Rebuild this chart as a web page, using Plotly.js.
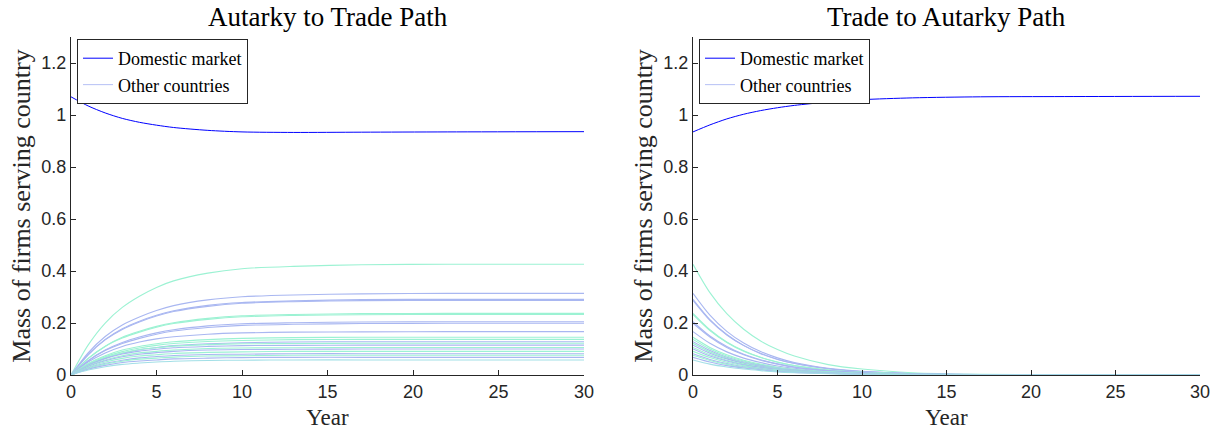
<!DOCTYPE html>
<html>
<head>
<meta charset="utf-8">
<script src="https://cdn.plot.ly/plotly-3.0.1.min.js"></script>
<style>html,body{margin:0;padding:0;background:#fff;}#chart{width:1229px;height:435px;}</style>
</head>
<body>
<div id="chart"></div>
<script>
// ---- data ----
var years = [0, 1, 2, 3, 4, 5, 6, 8, 10, 13, 17, 22, 30];

var domesticAutarkyToTrade = [1.070, 1.035, 1.008, 0.987, 0.972, 0.961, 0.952, 0.941, 0.935, 0.933, 0.934, 0.935, 0.936];
var domesticTradeToAutarky = [0.935, 0.962, 0.985, 1.003, 1.017, 1.028, 1.037, 1.050, 1.059, 1.066, 1.070, 1.071, 1.072];

var othersAutarkyToTrade = [
  [0, 0.115, 0.200, 0.260, 0.303, 0.337, 0.362, 0.392, 0.409, 0.418, 0.424, 0.426, 0.426],
  [0, 0.085, 0.148, 0.192, 0.223, 0.248, 0.267, 0.289, 0.301, 0.308, 0.312, 0.314, 0.314],
  [0, 0.079, 0.137, 0.178, 0.207, 0.230, 0.247, 0.268, 0.279, 0.285, 0.290, 0.291, 0.291],
  [0, 0.077, 0.135, 0.175, 0.204, 0.227, 0.244, 0.264, 0.276, 0.282, 0.286, 0.287, 0.287],
  [0, 0.064, 0.111, 0.145, 0.168, 0.187, 0.201, 0.218, 0.228, 0.233, 0.236, 0.237, 0.237],
  [0, 0.063, 0.110, 0.142, 0.165, 0.184, 0.198, 0.214, 0.224, 0.229, 0.232, 0.233, 0.233],
  [0, 0.055, 0.096, 0.125, 0.146, 0.162, 0.174, 0.189, 0.197, 0.201, 0.204, 0.205, 0.205],
  [0, 0.054, 0.094, 0.121, 0.141, 0.157, 0.169, 0.183, 0.191, 0.195, 0.198, 0.199, 0.199],
  [0, 0.050, 0.085, 0.110, 0.127, 0.139, 0.147, 0.157, 0.162, 0.165, 0.166, 0.167, 0.167],
  [0, 0.044, 0.074, 0.096, 0.110, 0.120, 0.128, 0.136, 0.141, 0.144, 0.145, 0.145, 0.145],
  [0, 0.041, 0.070, 0.090, 0.104, 0.114, 0.121, 0.129, 0.133, 0.136, 0.137, 0.137, 0.137],
  [0, 0.038, 0.065, 0.084, 0.097, 0.106, 0.113, 0.120, 0.124, 0.127, 0.128, 0.128, 0.128],
  [0, 0.040, 0.067, 0.085, 0.098, 0.105, 0.111, 0.117, 0.120, 0.121, 0.122, 0.122, 0.122],
  [0, 0.038, 0.063, 0.081, 0.092, 0.099, 0.105, 0.110, 0.113, 0.114, 0.115, 0.115, 0.115],
  [0, 0.035, 0.058, 0.074, 0.085, 0.091, 0.096, 0.102, 0.104, 0.105, 0.106, 0.106, 0.106],
  [0, 0.033, 0.055, 0.070, 0.080, 0.086, 0.091, 0.096, 0.098, 0.099, 0.100, 0.100, 0.100],
  [0, 0.030, 0.050, 0.064, 0.073, 0.078, 0.083, 0.087, 0.089, 0.091, 0.091, 0.091, 0.091],
  [0, 0.027, 0.045, 0.057, 0.066, 0.071, 0.075, 0.079, 0.080, 0.082, 0.082, 0.082, 0.082],
  [0, 0.025, 0.042, 0.053, 0.061, 0.065, 0.069, 0.073, 0.074, 0.076, 0.076, 0.076, 0.076],
  [0, 0.022, 0.037, 0.048, 0.054, 0.058, 0.062, 0.065, 0.067, 0.068, 0.068, 0.068, 0.068],
  [0, 0.019, 0.032, 0.041, 0.046, 0.050, 0.053, 0.056, 0.057, 0.058, 0.058, 0.058, 0.058]
];

var othersTradeToAutarky = [
  [0.426, 0.317, 0.236, 0.176, 0.131, 0.098, 0.073, 0.040, 0.023, 0.009, 0.003, 0.001, 0],
  [0.314, 0.230, 0.168, 0.123, 0.090, 0.066, 0.048, 0.026, 0.014, 0.005, 0.002, 0, 0],
  [0.291, 0.213, 0.156, 0.114, 0.084, 0.061, 0.045, 0.024, 0.013, 0.005, 0.001, 0, 0],
  [0.287, 0.210, 0.154, 0.113, 0.082, 0.060, 0.044, 0.024, 0.013, 0.005, 0.001, 0, 0],
  [0.237, 0.174, 0.127, 0.093, 0.068, 0.050, 0.036, 0.019, 0.010, 0.004, 0.001, 0, 0],
  [0.233, 0.171, 0.125, 0.091, 0.067, 0.049, 0.036, 0.019, 0.010, 0.004, 0.001, 0, 0],
  [0.205, 0.150, 0.110, 0.080, 0.059, 0.043, 0.031, 0.017, 0.009, 0.003, 0.001, 0, 0],
  [0.199, 0.146, 0.106, 0.078, 0.057, 0.042, 0.030, 0.016, 0.009, 0.003, 0.001, 0, 0],
  [0.167, 0.122, 0.089, 0.065, 0.048, 0.035, 0.026, 0.014, 0.007, 0.003, 0.001, 0, 0],
  [0.145, 0.106, 0.078, 0.057, 0.042, 0.030, 0.022, 0.012, 0.006, 0.002, 0.001, 0, 0],
  [0.137, 0.100, 0.073, 0.054, 0.039, 0.029, 0.021, 0.011, 0.006, 0.002, 0.001, 0, 0],
  [0.128, 0.094, 0.068, 0.050, 0.037, 0.027, 0.020, 0.010, 0.006, 0.002, 0.001, 0, 0],
  [0.122, 0.089, 0.065, 0.048, 0.035, 0.026, 0.019, 0.010, 0.005, 0.002, 0.001, 0, 0],
  [0.115, 0.084, 0.062, 0.045, 0.033, 0.024, 0.018, 0.009, 0.005, 0.002, 0.001, 0, 0],
  [0.106, 0.078, 0.057, 0.042, 0.030, 0.022, 0.016, 0.009, 0.005, 0.002, 0, 0, 0],
  [0.100, 0.073, 0.054, 0.039, 0.029, 0.021, 0.015, 0.008, 0.004, 0.002, 0, 0, 0],
  [0.091, 0.067, 0.049, 0.036, 0.026, 0.019, 0.014, 0.007, 0.004, 0.002, 0, 0, 0],
  [0.082, 0.060, 0.044, 0.032, 0.024, 0.017, 0.013, 0.007, 0.004, 0.001, 0, 0, 0],
  [0.076, 0.056, 0.041, 0.030, 0.022, 0.016, 0.012, 0.006, 0.003, 0.001, 0, 0, 0],
  [0.068, 0.050, 0.036, 0.027, 0.020, 0.014, 0.010, 0.006, 0.003, 0.001, 0, 0, 0],
  [0.058, 0.042, 0.031, 0.023, 0.017, 0.012, 0.009, 0.005, 0.003, 0.001, 0, 0, 0]
];

var yTickVals = [0, 0.2, 0.4, 0.6, 0.8, 1, 1.2];
var yTickText = ['0', '0.2', '0.4', '0.6', '0.8', '1', '1.2'];
var xTickVals = [0, 5, 10, 15, 20, 25, 30];
var panelTitles = ['Autarky to Trade Path', 'Trade to Autarky Path'];
var legendNames = ['Domestic market', 'Other countries'];
var yTitle = 'Mass of firms serving country';
var xTitle = 'Year';

// ---- styles ----
var BLUE = '#a9b7f1', GREEN = '#9cf2d3', CYAN = '#a2dfe6', LEGEND_OTHER = '#bcc6f6';
var otherColors = [GREEN, BLUE, BLUE, BLUE, GREEN, GREEN, BLUE, BLUE, BLUE, GREEN, GREEN,
                   BLUE, GREEN, BLUE, GREEN, BLUE, GREEN, BLUE, GREEN, BLUE, CYAN];
var serif = '"Liberation Serif", "Times New Roman", serif';
var sans = '"Liberation Sans", Arial, sans-serif';

var traces = [];
function addPanel(dom, others, xa, ya, leg) {
  traces.push({x: years, y: dom, xaxis: xa, yaxis: ya, type: 'scatter', mode: 'lines',
    name: legendNames[0], legend: leg, legendrank: 1,
    line: {color: '#0000ff', width: 1, shape: 'spline', smoothing: 0.8}});
  others.forEach(function (s, i) {
    traces.push({x: years, y: s, xaxis: xa, yaxis: ya, type: 'scatter', mode: 'lines',
      name: legendNames[1], legend: leg, showlegend: false,
      line: {color: otherColors[i], width: 1.1, shape: 'spline', smoothing: 0.8}});
  });
  // legend-only entry for the group of other countries
  traces.push({x: [null], y: [null], xaxis: xa, yaxis: ya, type: 'scatter', mode: 'lines',
    name: legendNames[1], legend: leg, legendrank: 2,
    line: {color: LEGEND_OTHER, width: 1.1}});
}
addPanel(domesticAutarkyToTrade, othersAutarkyToTrade, 'x', 'y', 'legend');
addPanel(domesticTradeToAutarky, othersTradeToAutarky, 'x2', 'y2', 'legend2');

function xAxis(domain, anchor) {
  return {domain: domain, anchor: anchor, range: [0, 30], tickvals: xTickVals,
    ticks: 'inside', ticklen: 5, tickcolor: '#262626', tickwidth: 1,
    showline: true, linecolor: '#262626', linewidth: 1.2, showgrid: false, zeroline: false,
    tickfont: {family: sans, size: 18, color: '#262626'},
    title: {text: xTitle, font: {family: serif, size: 23, color: '#262626'}, standoff: 8},
    automargin: false, fixedrange: true};
}
function yAxis(anchor) {
  return {domain: [0.1379, 0.9149], anchor: anchor, range: [0, 1.3],
    tickvals: yTickVals, ticktext: yTickText,
    ticks: 'inside', ticklen: 5, tickcolor: '#262626', tickwidth: 1,
    showline: true, linecolor: '#262626', linewidth: 1.2, showgrid: false, zeroline: false,
    tickfont: {family: sans, size: 18, color: '#262626'},
    title: {text: yTitle, font: {family: serif, size: 26, color: '#262626'}, standoff: 3},
    automargin: false, fixedrange: true};
}

var legendStyle = {bgcolor: '#ffffff', bordercolor: '#262626', borderwidth: 1,
  font: {family: serif, size: 18, color: '#000'}, yanchor: 'top', xanchor: 'left',
  tracegroupgap: 0, itemwidth: 30, traceorder: 'normal'};

var layout = {
  width: 1229, height: 435,
  margin: {l: 0, r: 0, t: 0, b: 0},
  font: {family: serif, color: '#000'},
  paper_bgcolor: '#ffffff', plot_bgcolor: '#ffffff',
  showlegend: true,
  xaxis: xAxis([71 / 1229, 584 / 1229], 'y'),
  yaxis: yAxis('x'),
  xaxis2: xAxis([693 / 1229, 1200 / 1229], 'y2'),
  yaxis2: yAxis('x2'),
  legend: Object.assign({}, legendStyle, {x: 77 / 1229, y: (435 - 39) / 435}),
  legend2: Object.assign({}, legendStyle, {x: 699 / 1229, y: (435 - 39) / 435}),
  annotations: [
    {text: panelTitles[0], xref: 'paper', yref: 'paper', x: 327.5 / 1229, xanchor: 'center',
     y: 1, yanchor: 'top', yshift: 0,
     showarrow: false, font: {family: serif, size: 27, color: '#000'}},
    {text: panelTitles[1], xref: 'paper', yref: 'paper', x: 946.5 / 1229, xanchor: 'center',
     y: 1, yanchor: 'top', yshift: 0,
     showarrow: false, font: {family: serif, size: 27, color: '#000'}}
  ]
};

Plotly.newPlot('chart', traces, layout, {displayModeBar: false, staticPlot: true});
</script>
</body>
</html>
